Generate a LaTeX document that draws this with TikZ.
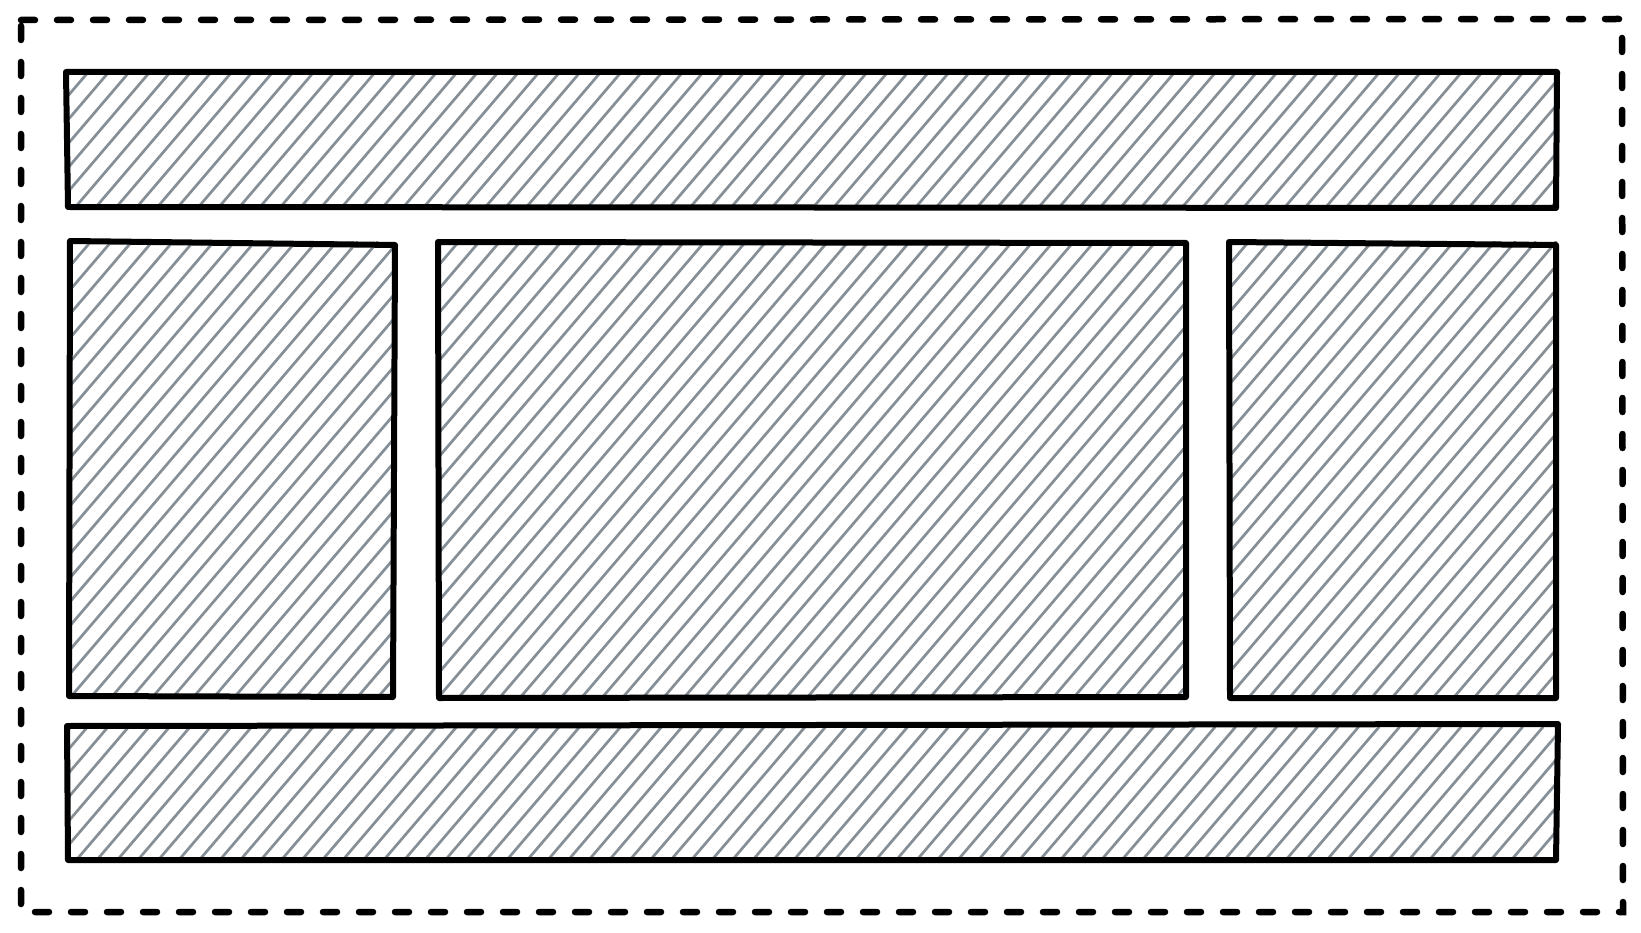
\documentclass[tikz,border=0pt]{standalone}
\definecolor{hatchgray}{HTML}{868E96}
\tikzset{
  hatch/.style={draw=hatchgray, line width=2.7pt, line cap=round},
  edge/.style={draw=black, line width=6pt, line join=round, line cap=round},
  outer/.style={draw=black, line width=6.5pt, line cap=round, dash pattern=on 14pt off 22pt}
}
\newcommand\sketchhatch[4]{%
  \pgfmathsetmacro\hh{(#4-#2)/1.17}%
  \pgfmathsetmacro\hy{#2-#4}%
  \pgfmathsetmacro\sa{#1-\hh}%
  \pgfmathsetmacro\sb{\sa+20.5}%
  \begin{scope}
    \clip (#1,#2) rectangle (#3,#4);
    \foreach \a in {\sa,\sb,...,#3}{\draw[hatch] (\a,#4) -- ++(\hh,\hy);}
  \end{scope}
}
\begin{document}
\begin{tikzpicture}[x=1pt,y=-1pt]
  \useasboundingbox (0,0) rectangle (1641,933);
  \fill[white] (0,0) rectangle (1641,933);
  \draw[outer] (21,20) -- (1622,19) -- (1623,912) -- (21,912) -- cycle;
  % top bar
  \sketchhatch{67}{73}{1557}{207}
  \draw[edge] (66,72) -- (1557,72) -- (1556,208) -- (68,207) -- cycle;
  % middle left
  \sketchhatch{70}{242}{395}{697}
  \draw[edge] (70,241) -- (395,245) -- (393,697) -- (69,696) -- cycle;
  % middle centre
  \sketchhatch{438}{242}{1185}{697}
  \draw[edge] (438,242) -- (1186,243) -- (1186,697) -- (439,698) -- cycle;
  % middle right
  \sketchhatch{1228}{242}{1557}{697}
  \draw[edge] (1229,242) -- (1556,245) -- (1556,698) -- (1230,698) -- cycle;
  % bottom bar
  \sketchhatch{67}{727}{1557}{860}
  \draw[edge] (67,726) -- (1558,724) -- (1556,860) -- (68,860) -- cycle;
\end{tikzpicture}
\end{document}
